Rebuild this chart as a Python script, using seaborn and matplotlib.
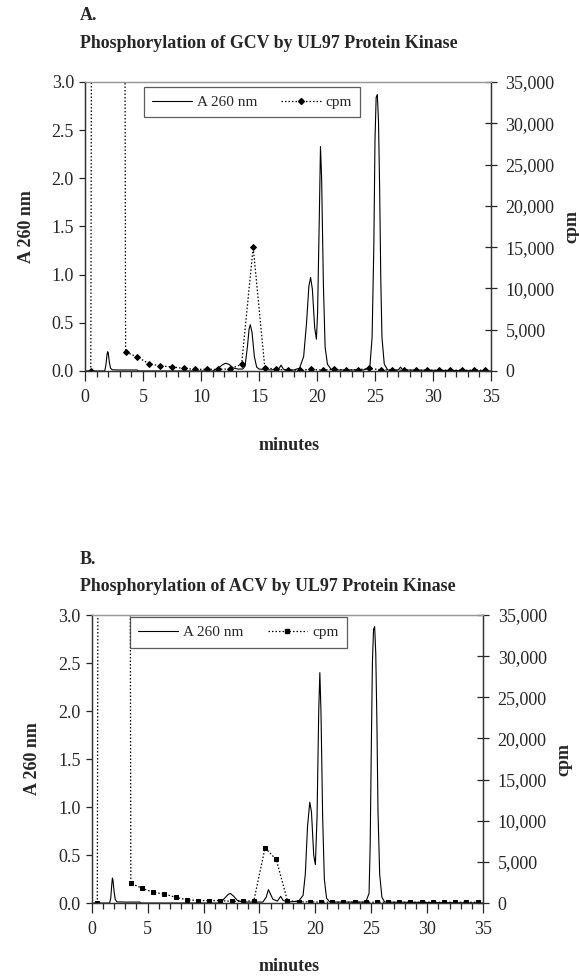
import numpy as np
import pandas as pd
import matplotlib
matplotlib.use("Agg")
import matplotlib.pyplot as plt
import seaborn as sns
from matplotlib.ticker import MultipleLocator, FuncFormatter
from matplotlib.lines import Line2D

# ---- data ----
# cpm fractions, one every minute (mid-minute)
frac_min = [0.5 + i for i in range(35)]
cpm_gcv = [0, 700000, 700000, 2300, 1700, 900, 600, 500, 300, 200,
           200, 200, 250, 800, 15000, 400, 200, 100, 100, 200,
           100, 200, 100, 150, 300, 150, 100, 100, 100, 100,
           100, 100, 100, 100, 100]
cpm_acv = [0, 700000, 700000, 2400, 1800, 1300, 1100, 700, 400, 300,
           300, 300, 200, 200, 300, 6700, 5300, 300, 150, 150,
           100, 100, 100, 100, 100, 100, 100, 100, 100, 100,
           100, 100, 100, 100, 100]

# A 260 nm trace, GCV
a260_gcv_t = [0, 1.7, 1.8, 1.9, 1.95, 2.0, 2.1, 2.2, 2.35, 3.0, 4.5, 4.6,
              11.0, 11.4, 11.8, 12.1, 12.4, 12.8, 13.2, 13.6, 13.8, 14.0,
              14.15, 14.25, 14.4, 14.6, 14.8, 15.0, 16.0, 16.7, 16.9, 17.1,
              17.3, 18.0, 18.5, 18.85, 19.1, 19.3, 19.45, 19.6, 19.8, 19.95,
              20.05, 20.2, 20.3, 20.4, 20.55, 20.7, 20.9, 21.2, 21.5, 24.0,
              24.55, 24.75, 24.9, 25.0, 25.1, 25.2, 25.3, 25.4, 25.5, 25.6,
              25.8, 26.1, 27.0, 27.2, 27.4, 35]
a260_gcv = [0, 0, 0.06, 0.17, 0.2, 0.19, 0.09, 0.03, 0.012, 0.01, 0.01, 0.0,
            0.0, 0.02, 0.06, 0.08, 0.07, 0.03, 0.02, 0.02, 0.05, 0.25,
            0.44, 0.48, 0.4, 0.15, 0.04, 0.02, 0.01, 0.02, 0.06, 0.02,
            0.01, 0.01, 0.03, 0.15, 0.5, 0.88, 0.97, 0.85, 0.45, 0.33,
            0.6, 1.6, 2.33, 2.0, 0.9, 0.25, 0.07, 0.02, 0.01, 0.01,
            0.03, 0.35, 1.3, 2.4, 2.84, 2.87, 2.6, 1.9, 0.95, 0.35,
            0.07, 0.01, 0.01, 0.04, 0.01, 0]

# A 260 nm trace, ACV
a260_acv_t = [0, 1.6, 1.7, 1.8, 1.85, 1.9, 2.0, 2.1, 2.25, 3.0, 4.3, 4.4,
              11.5, 11.8, 12.2, 12.4, 12.7, 13.0, 13.5, 15.3, 15.6, 15.8,
              16.0, 16.2, 16.6, 16.9, 17.1, 17.5, 18.5, 18.9, 19.1, 19.3,
              19.5, 19.65, 19.85, 20.0, 20.15, 20.3, 20.4, 20.5, 20.65, 20.8,
              21.0, 21.3, 24.5, 24.8, 24.9, 25.0, 25.1, 25.2, 25.3, 25.4,
              25.5, 25.6, 25.75, 25.95, 26.2, 35]
a260_acv = [0, 0, 0.05, 0.2, 0.26, 0.24, 0.12, 0.04, 0.012, 0.01, 0.01, 0,
            0, 0.04, 0.09, 0.1, 0.07, 0.03, 0.01, 0.01, 0.06, 0.14,
            0.09, 0.04, 0.02, 0.07, 0.03, 0.01, 0.02, 0.08, 0.3, 0.8,
            1.05, 0.95, 0.5, 0.4, 0.9, 2.0, 2.4, 2.0, 0.9, 0.25,
            0.05, 0.01, 0.01, 0.1, 0.6, 1.6, 2.5, 2.85, 2.88, 2.6,
            1.9, 0.95, 0.3, 0.06, 0.01, 0]

panels = [
    dict(tag="A.", title="Phosphorylation of GCV by UL97 Protein Kinase",
         t=a260_gcv_t, a=a260_gcv, cpm=cpm_gcv, marker="D", ms=3.0,
         rect=[0.1468, 0.6203, 0.7012, 0.2958],
         leg=(0.145, 0.983), tag_y=0.984, title_y=0.955, xlab_y=0.535),
    dict(tag="B.", title="Phosphorylation of ACV by UL97 Protein Kinase",
         t=a260_acv_t, a=a260_acv, cpm=cpm_acv, marker="s", ms=3.2,
         rect=[0.1584, 0.0757, 0.6760, 0.2948],
         leg=(0.098, 0.993), tag_y=0.427, title_y=0.400, xlab_y=0.002),
]

sns.set_style("ticks")
plt.rcParams["font.family"] = ["Liberation Serif", "DejaVu Serif"]
plt.rcParams["axes.linewidth"] = 0.9

fig = plt.figure(figsize=(5.79, 9.77), dpi=100)

for p in panels:
    ax = fig.add_axes(p["rect"])
    ax2 = ax.twinx()

    trace = pd.DataFrame({"minutes": p["t"], "A260": p["a"]})
    frac = pd.DataFrame({"minutes": frac_min, "cpm": p["cpm"]})

    sns.lineplot(data=trace, x="minutes", y="A260", ax=ax, color="black",
                 lw=0.8, sort=False)
    sns.lineplot(data=frac, x="minutes", y="cpm", ax=ax2, color="black",
                 lw=0.9, linestyle=(0, (1.2, 1.6)), marker=p["marker"],
                 markersize=p["ms"], markeredgecolor="black", sort=False)

    ax.set_xlim(0, 35)
    ax.set_ylim(0, 3.0)
    ax2.set_ylim(0, 35000)

    ax.xaxis.set_major_locator(MultipleLocator(5))
    ax.xaxis.set_minor_locator(MultipleLocator(1))
    ax.yaxis.set_major_locator(MultipleLocator(0.5))
    ax.yaxis.set_major_formatter(FuncFormatter(lambda v, _: f"{v:.1f}"))
    ax2.yaxis.set_major_locator(MultipleLocator(5000))
    ax2.yaxis.set_major_formatter(FuncFormatter(lambda v, _: f"{v:,.0f}"))

    ax.tick_params(axis="x", which="major", direction="out", length=7,
                   width=0.9, labelsize=13, pad=6)
    ax.tick_params(axis="x", which="minor", direction="out", length=4,
                   width=0.9)
    ax.tick_params(axis="y", direction="out", length=4, width=0.9,
                   labelsize=13, pad=4)
    ax2.tick_params(axis="y", direction="inout", length=9, width=0.9,
                    labelsize=13, pad=6)

    for a_ in (ax, ax2):
        a_.spines["top"].set_color("#999999")
        a_.spines["left"].set_color("#333333")
        a_.spines["right"].set_color("#333333")
        a_.spines["bottom"].set_color("#333333")

    ax.set_xlabel("")
    ax.set_ylabel("A 260 nm", fontsize=13, fontweight="bold", labelpad=12)
    ax2.set_ylabel("cpm", fontsize=13, fontweight="bold", labelpad=6)

    fig.text(0.5, p["xlab_y"], "minutes", ha="center", va="bottom",
             fontsize=13, fontweight="bold")
    fig.text(0.138, p["tag_y"], p["tag"], ha="left", va="center",
             fontsize=13, fontweight="bold")
    fig.text(0.138, p["title_y"], p["title"], ha="left", va="center",
             fontsize=12.9, fontweight="bold")

    handles = [
        Line2D([], [], color="black", lw=0.8),
        Line2D([], [], color="black", lw=0.9, linestyle=(0, (1.2, 1.6)),
               marker=p["marker"], markersize=p["ms"]),
    ]
    leg = ax2.legend(handles, ["A 260 nm", "cpm"], ncol=2, loc="upper left",
                     bbox_to_anchor=p["leg"], frameon=True, fancybox=False,
                     fontsize=11, handlelength=2.6, columnspacing=1.6,
                     borderpad=0.55, handletextpad=0.3, borderaxespad=0)
    leg.get_frame().set_edgecolor("#333333")
    leg.get_frame().set_linewidth(0.9)

fig.savefig("out.png", dpi=100, facecolor="white")
